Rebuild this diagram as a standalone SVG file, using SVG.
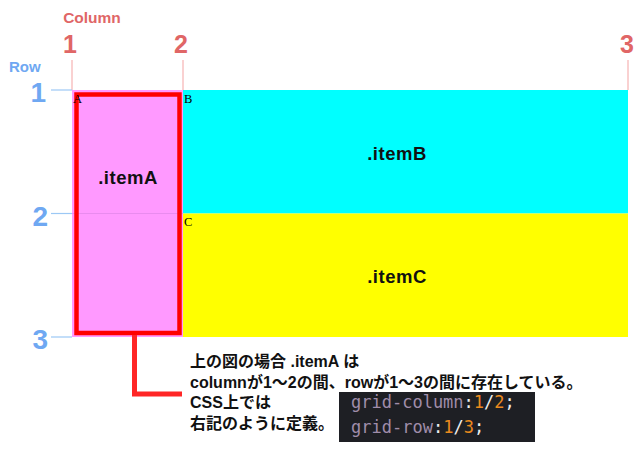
<svg xmlns="http://www.w3.org/2000/svg" width="640" height="450" viewBox="0 0 640 450">
<style>
.col{font-family:"Liberation Sans",Arial,sans-serif;font-weight:bold;fill:#E06666;text-anchor:middle}
.row{font-family:"Liberation Sans",Arial,sans-serif;font-weight:bold;fill:#6FA8F2;text-anchor:end}
.cline{stroke:#F4A3A3;stroke-width:1}
.rline{stroke:#9CC8F5;stroke-width:1.2}
.item{font-family:"Liberation Sans",Arial,sans-serif;font-weight:bold;font-size:18.5px;fill:#111;text-anchor:middle;letter-spacing:0.5px}
.corner{font-family:"Liberation Serif","Times New Roman",serif;font-size:12.5px;fill:#000}
.jp{font-family:"Liberation Sans","Noto Sans CJK JP",sans-serif;font-weight:bold;font-size:16px;fill:#111}
.code{font-family:"DejaVu Sans Mono","Liberation Mono",monospace;font-size:17px}
.prop{fill:#A08DAA}
.num{fill:#EA8A1E}
.pun{fill:#EDEDED}
</style>
<g id="axis-labels">
<text class="col" x="92" y="23" font-size="15.5">Column</text>
<text class="col" x="70" y="53" font-size="25">1</text>
<text class="col" x="181" y="53" font-size="25">2</text>
<text class="col" x="627" y="53" font-size="25">3</text>
<text x="9" y="72" font-family="Liberation Sans,Arial,sans-serif" font-weight="bold" font-size="15" fill="#6FA8F2">Row</text>
<text class="row" x="46" y="102" font-size="28">1</text>
<text class="row" x="48" y="226" font-size="28">2</text>
<text class="row" x="48" y="349" font-size="28">3</text>
<line class="cline" x1="72" y1="60" x2="72" y2="90"/>
<line class="cline" x1="183" y1="60" x2="183" y2="90"/>
<line class="cline" x1="628" y1="60" x2="628" y2="90"/>
<line class="rline" x1="51" y1="90" x2="72" y2="90"/>
<line class="rline" x1="51" y1="213.5" x2="72" y2="213.5"/>
<line class="rline" x1="51" y1="337" x2="72" y2="337"/>
</g>
<g id="itemB">
<rect x="183" y="90" width="445" height="123.5" fill="#00FFFF"/>
<text class="item" x="397" y="160">.itemB</text>
</g>
<g id="itemC">
<rect x="183" y="213.5" width="445" height="123.5" fill="#FFFF00"/>
<text class="item" x="397" y="283">.itemC</text>
</g>
<g id="itemA">
<rect x="72" y="90" width="111" height="247" fill="#FF99FF"/>
<line x1="72" y1="213.5" x2="183" y2="213.5" stroke="#E98BEF" stroke-width="1"/>
<rect x="76.5" y="94.5" width="103" height="238.5" fill="none" stroke="#FF0000" stroke-width="4.5"/>
<text class="item" x="128" y="184">.itemA</text>
</g>
<g id="corner-labels">
<text class="corner" x="73" y="102.5">A</text>
<text class="corner" x="184" y="102.5">B</text>
<text class="corner" x="184" y="225.5">C</text>
</g>
<g id="connectors">
<polyline points="134.5,335 134.5,394 182,394" fill="none" stroke="#FF2626" stroke-width="5"/>
</g>
<g id="note">
<text class="jp" x="190" y="367">上の図の場合 .itemA は</text>
<text class="jp" x="190" y="387.5">columnが1〜2の間、rowが1〜3の間に存在している。</text>
<text class="jp" x="190" y="408">CSS上では</text>
<text class="jp" x="190" y="428.5">右記のように定義。</text>
</g>
<g id="code">
<rect x="339" y="392" width="196" height="50" fill="#1E1F24"/>
<text class="code" x="351" y="408"><tspan class="prop">grid-column</tspan><tspan class="pun">:</tspan><tspan class="num">1</tspan><tspan class="pun">/</tspan><tspan class="num">2</tspan><tspan class="pun">;</tspan></text>
<text class="code" x="351" y="433"><tspan class="prop">grid-row</tspan><tspan class="pun">:</tspan><tspan class="num">1</tspan><tspan class="pun">/</tspan><tspan class="num">3</tspan><tspan class="pun">;</tspan></text>
</g>
</svg>
